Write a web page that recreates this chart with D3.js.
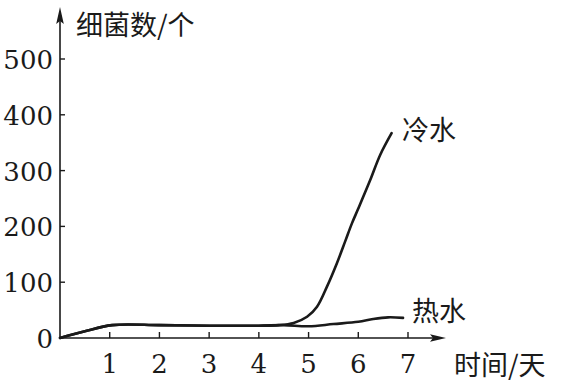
<!DOCTYPE html>
<html>
<head>
<meta charset="utf-8">
<script src="https://d3js.org/d3.v7.min.js"></script>
<style>
  body { margin: 0; background: #fff; }
  svg { display: block; }
</style>
</head>
<body>
<svg class="chart"></svg>
<script>

// days on the x axis
var xTicks = [1, 2, 3, 4, 5, 6, 7];

// bacteria counts on the y axis
var yTicks = [0, 100, 200, 300, 400, 500];

// cold water curve: day, count
var coldDays   = [0, 0.5, 1.05, 2, 3, 4, 4.4, 4.7, 4.97, 5.17, 5.37, 5.57, 5.74, 5.87, 6, 6.24, 6.44, 6.67];
var coldCounts = [0, 12, 23, 23, 22, 22, 23, 27, 38, 56, 92, 134, 174, 205, 232, 283, 328, 367];

// hot water curve: day, count
var hotDays   = [0, 0.5, 1.05, 2, 3, 4, 4.5, 5, 5.5, 6, 6.3, 6.6, 6.9];
var hotCounts = [0, 12, 23, 23, 22, 22, 23, 21, 25, 29, 34, 37, 36];

var width = 562,
    height = 383;

var serif = "'DejaVu Serif', 'Liberation Serif', serif",
    cjk = "'Noto Sans CJK SC', sans-serif",
    ink = "#1a1a1a";

var svg = d3.select(".chart")
    .attr("width", width)
    .attr("height", height);

var x = d3.scaleLinear()
    .domain([0, 7])
    .range([60, 408]);

var y = d3.scaleLinear()
    .domain([0, 500])
    .range([338, 59]);

drawAxes();
drawCurves();
drawLabels();

// axes with arrow heads
function drawAxes() {

    // x axis line
    svg.append("line")
        .attr("x1", x(0)).attr("y1", y(0))
        .attr("x2", 436).attr("y2", y(0))
        .attr("stroke", ink)
        .attr("stroke-width", 1.6);

    svg.append("path")
        .attr("d", "M446," + y(0) + "L430," + (y(0) - 3.8) + "L433," + y(0) + "L430," + (y(0) + 3.8) + "Z")
        .attr("fill", ink);

    // y axis line
    svg.append("line")
        .attr("x1", x(0)).attr("y1", y(0))
        .attr("x2", x(0)).attr("y2", 20)
        .attr("stroke", ink)
        .attr("stroke-width", 1.6);

    svg.append("path")
        .attr("d", "M" + x(0) + ",7L" + (x(0) - 3.8) + ",24L" + x(0) + ",21L" + (x(0) + 3.8) + ",24Z")
        .attr("fill", ink);

    // x ticks point up
    svg.selectAll(".xtick")
        .data(xTicks)
        .enter()
        .append("line")
        .attr("class", "xtick")
        .attr("x1", function(d) { return x(d); })
        .attr("x2", function(d) { return x(d); })
        .attr("y1", y(0))
        .attr("y2", y(0) - 6)
        .attr("stroke", ink)
        .attr("stroke-width", 1.4);

    svg.selectAll(".xlab")
        .data(xTicks)
        .enter()
        .append("text")
        .attr("class", "xlab")
        .attr("x", function(d) { return x(d); })
        .attr("y", 373)
        .attr("text-anchor", "middle")
        .attr("font-family", serif)
        .attr("font-size", 26)
        .attr("fill", ink)
        .text(function(d) { return d; });

    // y ticks point right
    svg.selectAll(".ytick")
        .data(yTicks.slice(1))
        .enter()
        .append("line")
        .attr("class", "ytick")
        .attr("x1", x(0))
        .attr("x2", x(0) + 5)
        .attr("y1", function(d) { return y(d); })
        .attr("y2", function(d) { return y(d); })
        .attr("stroke", ink)
        .attr("stroke-width", 1.4);

    svg.selectAll(".ylab")
        .data(yTicks)
        .enter()
        .append("text")
        .attr("class", "ylab")
        .attr("x", 53)
        .attr("y", function(d) { return y(d) + 10; })
        .attr("text-anchor", "end")
        .attr("font-family", serif)
        .attr("font-size", 26)
        .attr("fill", ink)
        .text(function(d) { return d; });
}

// the two growth curves
function drawCurves() {

    var line = d3.line()
        .x(function(d) { return x(d[0]); })
        .y(function(d) { return y(d[1]); })
        .curve(d3.curveCatmullRom.alpha(0.5));

    var hot = d3.zip(hotDays, hotCounts),
        cold = d3.zip(coldDays, coldCounts);

    svg.append("path")
        .datum(hot)
        .attr("d", line)
        .attr("fill", "none")
        .attr("stroke", ink)
        .attr("stroke-width", 2.6)
        .attr("stroke-linecap", "round");

    svg.append("path")
        .datum(cold)
        .attr("d", line)
        .attr("fill", "none")
        .attr("stroke", ink)
        .attr("stroke-width", 2.6)
        .attr("stroke-linecap", "round");
}

// axis titles and curve names
function addLabel(text, px, py) {
    svg.append("text")
        .attr("x", px)
        .attr("y", py)
        .attr("font-family", cjk)
        .attr("font-size", 27)
        .attr("fill", ink)
        .text(text);
}

function drawLabels() {
    addLabel("细菌数/个", 76, 35);
    addLabel("时间/天", 454, 375);
    addLabel("冷水", 402, 140);
    addLabel("热水", 412, 321);
}
</script>
</body>
</html>
